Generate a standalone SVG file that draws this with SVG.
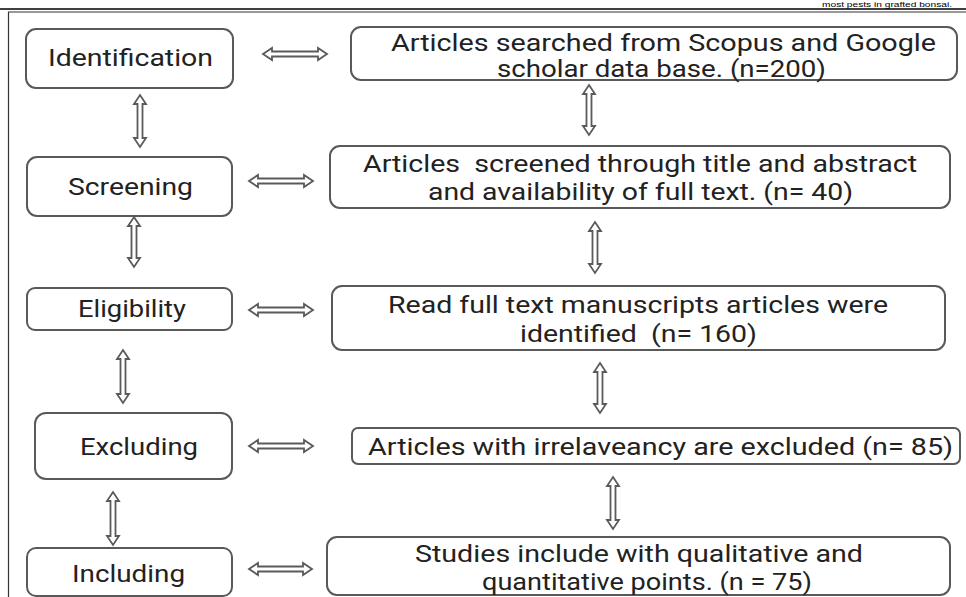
<svg xmlns="http://www.w3.org/2000/svg" width="966" height="597" viewBox="0 0 966 597">
<style>
.bg{fill:#ffffff}
.box{fill:#ffffff;stroke:#595959;stroke-width:2}
.t{font-family:Roboto,"Liberation Sans",sans-serif;font-size:24px;fill:#222222;text-anchor:middle;white-space:pre}
.arr{fill:#ffffff;stroke:#5a5a5a;stroke-width:1.8;stroke-linejoin:miter}
.hdr{font-family:"Liberation Sans",Arial,sans-serif;font-size:8px;fill:#000000}
</style>
<rect class="bg" x="0" y="0" width="966" height="597"/>
<text class="hdr" x="822" y="7.4" textLength="130" lengthAdjust="spacingAndGlyphs">most pests in grafted bonsai.</text>
<line x1="0" y1="9" x2="966" y2="9" stroke="#000" stroke-width="1.6"/>
<path d="M8.5 597 V12 H966" fill="none" stroke="#333" stroke-width="1.2"/>

<g id="connectors">
<path class="arr" d="M263 54 L272 48 V51.5 H318 V48 L327 54 L318 60 V56.5 H272 V60 Z"/>
<path class="arr" d="M249 181 L258 175 V178.5 H304 V175 L313 181 L304 187 V183.5 H258 V187 Z"/>
<path class="arr" d="M249 310 L258 304 V307.5 H304 V304 L313 310 L304 316 V312.5 H258 V316 Z"/>
<path class="arr" d="M249 446 L258 440 V443.5 H304 V440 L313 446 L304 452 V448.5 H258 V452 Z"/>
<path class="arr" d="M249 569 L258 563 V566.5 H303 V563 L312 569 L303 575 V571.5 H258 V575 Z"/>
<path class="arr" d="M140 95 L146 104 H142.5 V138 H146 L140 147 L134 138 H137.5 V104 H134 Z"/>
<path class="arr" d="M134 217 L140 226 H136.5 V258 H140 L134 267 L128 258 H131.5 V226 H128 Z"/>
<path class="arr" d="M123 350 L129 359 H125.5 V394 H129 L123 403 L117 394 H120.5 V359 H117 Z"/>
<path class="arr" d="M113 492 L119 501 H115.5 V536 H119 L113 545 L107 536 H110.5 V501 H107 Z"/>
<path class="arr" d="M589 85 L595 94 H591.5 V126 H595 L589 135 L583 126 H586.5 V94 H583 Z"/>
<path class="arr" d="M595 222 L601 231 H597.5 V264 H601 L595 273 L589 264 H592.5 V231 H589 Z"/>
<path class="arr" d="M600 363 L606 372 H602.5 V404 H606 L600 413 L594 404 H597.5 V372 H594 Z"/>
<path class="arr" d="M613 477 L619 486 H615.5 V520 H619 L613 529 L607 520 H610.5 V486 H607 Z"/>
</g>

<g id="identification">
<rect class="box" x="26" y="29" width="207" height="59" rx="10"/>
<text class="t" x="130.5" y="66" textLength="165" lengthAdjust="spacingAndGlyphs">Identification</text>
</g>
<g id="screening">
<rect class="box" x="27" y="157" width="205" height="59" rx="10"/>
<text class="t" x="130.5" y="195" textLength="125" lengthAdjust="spacingAndGlyphs">Screening</text>
</g>
<g id="eligibility">
<rect class="box" x="27" y="288" width="205" height="42" rx="8"/>
<text class="t" x="132" y="317" textLength="108" lengthAdjust="spacingAndGlyphs">Eligibility</text>
</g>
<g id="excluding">
<rect class="box" x="35" y="413" width="197" height="66" rx="11"/>
<text class="t" x="139" y="455" textLength="118" lengthAdjust="spacingAndGlyphs">Excluding</text>
</g>
<g id="including">
<rect class="box" x="27" y="548" width="205" height="48" rx="9"/>
<text class="t" x="128.5" y="582" textLength="113" lengthAdjust="spacingAndGlyphs">Including</text>
</g>

<g id="searched">
<rect class="box" x="351" y="27" width="606" height="53" rx="10"/>
<text class="t" x="663.5" y="51" textLength="545" lengthAdjust="spacingAndGlyphs">Articles searched from Scopus and Google</text>
<text class="t" x="661.5" y="77" textLength="329" lengthAdjust="spacingAndGlyphs">scholar data base. (n=200)</text>
</g>
<g id="screened">
<rect class="box" x="330" y="146" width="620" height="62" rx="10"/>
<text class="t" x="640" y="172" textLength="554" lengthAdjust="spacingAndGlyphs">Articles  screened through title and abstract</text>
<text class="t" x="640.5" y="200" textLength="425" lengthAdjust="spacingAndGlyphs">and availability of full text. (n= 40)</text>
</g>
<g id="fulltext">
<rect class="box" x="332" y="286" width="613" height="64" rx="10"/>
<text class="t" x="638" y="313" textLength="500" lengthAdjust="spacingAndGlyphs">Read full text manuscripts articles were</text>
<text class="t" x="638.5" y="342" textLength="237" lengthAdjust="spacingAndGlyphs">identified  (n= 160)</text>
</g>
<g id="excluded">
<rect class="box" x="352" y="428" width="608" height="36" rx="6"/>
<text class="t" x="660.5" y="455" textLength="585" lengthAdjust="spacingAndGlyphs">Articles with irrelaveancy are excluded (n= 85)</text>
</g>
<g id="included">
<rect class="box" x="327" y="537" width="623" height="58" rx="10"/>
<text class="t" x="639" y="562" textLength="448" lengthAdjust="spacingAndGlyphs">Studies include with qualitative and</text>
<text class="t" x="647" y="590" textLength="330" lengthAdjust="spacingAndGlyphs">quantitative points. (n = 75)</text>
</g>
</svg>
